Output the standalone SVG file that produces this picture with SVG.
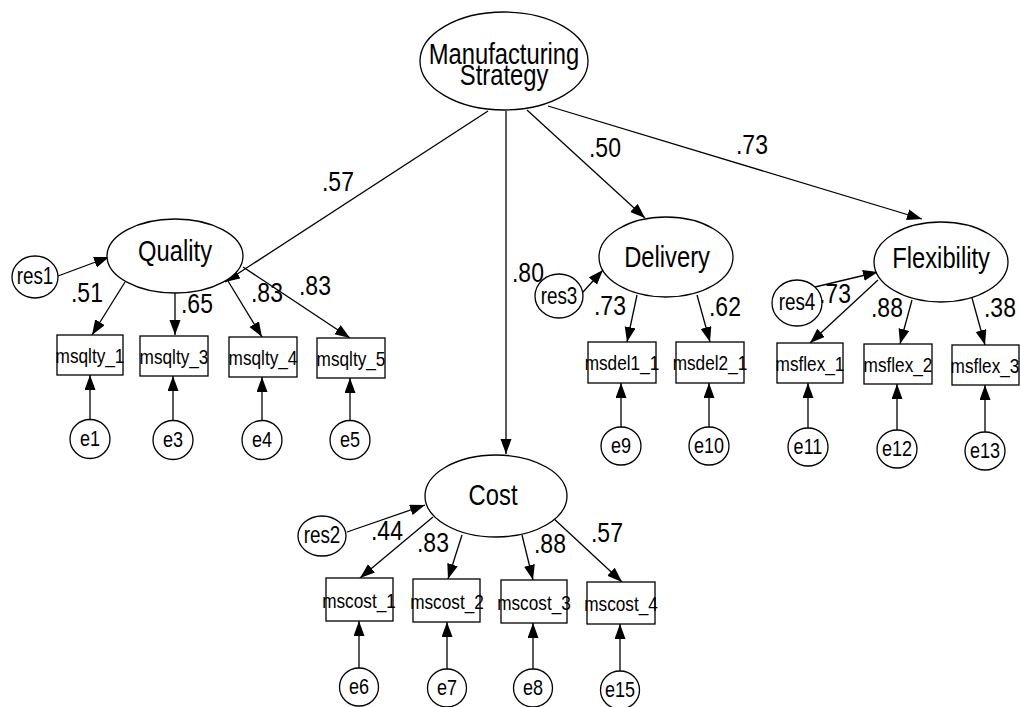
<svg xmlns="http://www.w3.org/2000/svg" width="1020" height="707" viewBox="0 0 1020 707">
  <defs>
    <marker id="arrow" markerUnits="userSpaceOnUse" markerWidth="16" markerHeight="12" refX="15" refY="5.5" orient="auto">
      <path d="M0,0 L15,5.5 L0,11 z" fill="#000"/>
    </marker>
    <style>
      .node ellipse, .node rect { fill: #fff; stroke: #000; stroke-width: 1.3; }
      .edges line { stroke: #000; stroke-width: 1.3; marker-end: url(#arrow); }
      text { font-family: "Liberation Sans", Arial, sans-serif; fill: #000;
             transform-box: fill-box; transform: scaleX(0.82); }
      .lat, .obs, .err, .res { text-anchor: middle; transform-origin: center; }
      .lat { font-size: 29px; }
      .obs { font-size: 21px; }
      .err { font-size: 22px; }
      .res { font-size: 23px; }
      .w text { font-size: 28px; transform-origin: left center; }
    </style>
  </defs>
  <rect width="1020" height="707" fill="#fff"/>

  <!-- connectors -->
  <g id="connectors" class="edges">
    <!-- second-order factor to first-order factors -->
    <line x1="488" y1="111" x2="225" y2="282"/>
    <line x1="506" y1="111" x2="506" y2="454"/>
    <line x1="527" y1="110" x2="645" y2="218"/>
    <line x1="548" y1="106" x2="922" y2="219"/>
    <!-- residuals -->
    <line x1="58" y1="276" x2="109" y2="257"/>
    <line x1="347" y1="532" x2="425" y2="505"/>
    <line x1="583" y1="292" x2="603" y2="270"/>
    <line x1="815" y1="287" x2="878" y2="272"/>
    <!-- Quality indicators -->
    <line x1="125" y1="282" x2="92" y2="335"/>
    <line x1="175" y1="293" x2="175" y2="335"/>
    <line x1="228" y1="281" x2="262" y2="337"/>
    <line x1="243" y1="267" x2="350" y2="338"/>
    <!-- Cost indicators -->
    <line x1="433" y1="517" x2="360" y2="578"/>
    <line x1="462" y1="535" x2="448" y2="579"/>
    <line x1="522" y1="535" x2="533" y2="580"/>
    <line x1="552" y1="517" x2="622" y2="582"/>
    <!-- Delivery indicators -->
    <line x1="637" y1="295" x2="627" y2="342"/>
    <line x1="697" y1="295" x2="710" y2="342"/>
    <!-- Flexibility indicators -->
    <line x1="878" y1="280" x2="810" y2="343"/>
    <line x1="912" y1="300" x2="900" y2="344"/>
    <line x1="972" y1="298" x2="985" y2="345"/>
    <!-- measurement errors -->
    <line x1="90" y1="420" x2="90" y2="375"/>
    <line x1="173" y1="421" x2="173" y2="376"/>
    <line x1="262" y1="421" x2="262" y2="377"/>
    <line x1="350" y1="421" x2="350" y2="378"/>
    <line x1="359" y1="668" x2="359" y2="621"/>
    <line x1="447" y1="669" x2="447" y2="622"/>
    <line x1="533" y1="669" x2="533" y2="623"/>
    <line x1="620" y1="671" x2="620" y2="624"/>
    <line x1="621" y1="427" x2="621" y2="383"/>
    <line x1="709" y1="427" x2="709" y2="383"/>
    <line x1="808" y1="428" x2="808" y2="383"/>
    <line x1="897" y1="430" x2="897" y2="384"/>
    <line x1="985" y1="432" x2="985" y2="385"/>
  </g>

  <!-- path coefficients -->
  <g id="weights" class="w">
    <text x="322" y="191">.57</text>
    <text x="512" y="282">.80</text>
    <text x="589" y="157">.50</text>
    <text x="736" y="154">.73</text>
    <text x="71" y="302">.51</text>
    <text x="181" y="313">.65</text>
    <text x="251" y="302">.83</text>
    <text x="299" y="295">.83</text>
    <text x="594" y="315">.73</text>
    <text x="709" y="316">.62</text>
    <text x="819" y="303">.73</text>
    <text x="871" y="317">.88</text>
    <text x="984" y="317">.38</text>
    <text x="371" y="540">.44</text>
    <text x="417" y="552">.83</text>
    <text x="534" y="553">.88</text>
    <text x="591" y="542">.57</text>
  </g>

  <!-- latent factors -->
  <g id="manufacturing-strategy" class="node">
    <ellipse cx="504" cy="61" rx="84" ry="49"/>
    <text class="lat" x="504" y="64">Manufacturing</text>
    <text class="lat" x="504" y="85">Strategy</text>
  </g>
  <g id="quality" class="node">
    <ellipse cx="175" cy="256" rx="68" ry="37"/>
    <text class="lat" x="175" y="261">Quality</text>
  </g>
  <g id="cost" class="node">
    <ellipse cx="496" cy="496" rx="71" ry="41"/>
    <text class="lat" x="493" y="505">Cost</text>
  </g>
  <g id="delivery" class="node">
    <ellipse cx="666" cy="257" rx="67" ry="40"/>
    <text class="lat" x="667" y="267">Delivery</text>
  </g>
  <g id="flexibility" class="node">
    <ellipse cx="941" cy="262" rx="67" ry="40"/>
    <text class="lat" x="941" y="268">Flexibility</text>
  </g>

  <!-- residuals of factors -->
  <g id="res1" class="node">
    <ellipse cx="35" cy="277" rx="23" ry="21"/>
    <text class="res" x="35" y="284">res1</text>
  </g>
  <g id="res2" class="node">
    <ellipse cx="322" cy="536" rx="24" ry="20"/>
    <text class="res" x="322" y="543">res2</text>
  </g>
  <g id="res3" class="node">
    <ellipse cx="559" cy="296" rx="24" ry="22"/>
    <text class="res" x="559" y="304">res3</text>
  </g>
  <g id="res4" class="node">
    <ellipse cx="797" cy="303" rx="25" ry="23"/>
    <text class="res" x="797" y="310">res4</text>
  </g>

  <!-- observed indicators -->
  <g id="msqlty_1" class="node"><rect x="57" y="335" width="66" height="40"/><text class="obs" x="90" y="363">msqlty_1</text></g>
  <g id="msqlty_3" class="node"><rect x="140" y="336" width="68" height="40"/><text class="obs" x="174" y="364">msqlty_3</text></g>
  <g id="msqlty_4" class="node"><rect x="229" y="337" width="68" height="40"/><text class="obs" x="263" y="365">msqlty_4</text></g>
  <g id="msqlty_5" class="node"><rect x="317" y="338" width="68" height="40"/><text class="obs" x="351" y="366">msqlty_5</text></g>

  <g id="mscost_1" class="node"><rect x="326" y="578" width="67" height="43"/><text class="obs" x="359" y="608">mscost_1</text></g>
  <g id="mscost_2" class="node"><rect x="413" y="579" width="67" height="43"/><text class="obs" x="447" y="609">mscost_2</text></g>
  <g id="mscost_3" class="node"><rect x="501" y="580" width="66" height="43"/><text class="obs" x="534" y="610">mscost_3</text></g>
  <g id="mscost_4" class="node"><rect x="587" y="582" width="68" height="42"/><text class="obs" x="621" y="611">mscost_4</text></g>

  <g id="msdel1_1" class="node"><rect x="588" y="342" width="68" height="41"/><text class="obs" x="622" y="370">msdel1_1</text></g>
  <g id="msdel2_1" class="node"><rect x="676" y="342" width="68" height="41"/><text class="obs" x="710" y="370">msdel2_1</text></g>

  <g id="msflex_1" class="node"><rect x="777" y="343" width="66" height="40"/><text class="obs" x="810" y="371">msflex_1</text></g>
  <g id="msflex_2" class="node"><rect x="864" y="344" width="68" height="40"/><text class="obs" x="898" y="372">msflex_2</text></g>
  <g id="msflex_3" class="node"><rect x="952" y="345" width="67" height="40"/><text class="obs" x="985" y="373">msflex_3</text></g>

  <!-- measurement errors -->
  <g id="e1" class="node"><ellipse cx="90" cy="439" rx="20" ry="19.5"/><text class="err" x="90" y="446">e1</text></g>
  <g id="e3" class="node"><ellipse cx="173" cy="440" rx="20" ry="19.5"/><text class="err" x="173" y="447">e3</text></g>
  <g id="e4" class="node"><ellipse cx="262" cy="440" rx="20" ry="19.5"/><text class="err" x="262" y="447">e4</text></g>
  <g id="e5" class="node"><ellipse cx="350" cy="440" rx="20" ry="19.5"/><text class="err" x="350" y="447">e5</text></g>
  <g id="e6" class="node"><ellipse cx="359" cy="687" rx="19.5" ry="19"/><text class="err" x="359" y="694">e6</text></g>
  <g id="e7" class="node"><ellipse cx="447" cy="688" rx="19.5" ry="19"/><text class="err" x="447" y="695">e7</text></g>
  <g id="e8" class="node"><ellipse cx="533" cy="688" rx="19.5" ry="19"/><text class="err" x="533" y="695">e8</text></g>
  <g id="e15" class="node"><ellipse cx="620" cy="690" rx="19.5" ry="19"/><text class="err" x="620" y="697">e15</text></g>
  <g id="e9" class="node"><ellipse cx="621" cy="446" rx="20" ry="19"/><text class="err" x="621" y="453">e9</text></g>
  <g id="e10" class="node"><ellipse cx="709" cy="446" rx="20" ry="19"/><text class="err" x="709" y="453">e10</text></g>
  <g id="e11" class="node"><ellipse cx="808" cy="447" rx="20" ry="19"/><text class="err" x="808" y="454">e11</text></g>
  <g id="e12" class="node"><ellipse cx="897" cy="449" rx="20" ry="19"/><text class="err" x="897" y="456">e12</text></g>
  <g id="e13" class="node"><ellipse cx="985" cy="451" rx="20" ry="19"/><text class="err" x="985" y="458">e13</text></g>
</svg>
